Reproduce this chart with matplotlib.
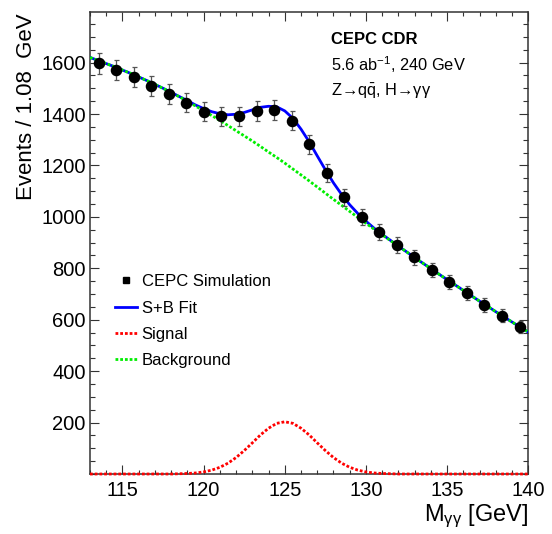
import numpy as np
import matplotlib
matplotlib.use("Agg")
import matplotlib.pyplot as plt
from matplotlib.lines import Line2D
from matplotlib.ticker import FixedLocator, MultipleLocator

plt.rcParams['font.family'] = ['Liberation Sans', 'DejaVu Sans']
plt.rcParams['mathtext.fontset'] = 'custom'
plt.rcParams['mathtext.rm'] = 'Liberation Sans'
plt.rcParams['mathtext.it'] = 'Liberation Sans:italic'
plt.rcParams['mathtext.bf'] = 'Liberation Sans:bold'

# Diphoton mass histogram: 25 bins of 1.08 GeV between 113 and 140 GeV
mass_lo, mass_hi, bin_width = 113.0, 140.0, 1.08
counts = [1597, 1571, 1543, 1510, 1479, 1444, 1409, 1391, 1391, 1412,
          1416, 1373, 1282, 1170, 1076, 998, 940, 891, 843, 793,
          748, 703, 657, 615, 573]

# Fitted shapes sampled every 0.5 GeV from 113 to 140 GeV
curve_step = 0.5
background = [1620, 1608, 1596, 1584, 1571, 1558, 1544, 1530, 1515, 1500,
              1484, 1467, 1450, 1431, 1413, 1394, 1375, 1355, 1335, 1315,
              1295, 1274, 1252, 1231, 1209, 1186, 1163, 1140, 1116, 1092,
              1068, 1045, 1021, 998, 975, 952, 930, 908, 886, 864,
              842, 820, 799, 777, 756, 735, 714, 693, 672, 652,
              631, 611, 591, 571, 552]
signal = [0, 0, 0, 0, 0, 0, 0, 0, 0, 0,
          0, 1, 2, 4, 8, 15, 26, 42, 64, 91,
          121, 152, 178, 197, 203, 197, 178, 152, 121, 91,
          64, 42, 26, 15, 8, 4, 2, 1, 0, 0,
          0, 0, 0, 0, 0, 0, 0, 0, 0, 0,
          0, 0, 0, 0, 0]

x_ticks = [115, 120, 125, 130, 135, 140]
y_ticks = [200, 400, 600, 800, 1000, 1200, 1400, 1600]

centers = mass_lo + bin_width * (np.arange(len(counts)) + 0.5)
counts_arr = np.array(counts, dtype=float)
errors = np.sqrt(counts_arr)
grid = mass_lo + curve_step * np.arange(len(background))
bkg_arr = np.array(background, dtype=float)
sig_arr = np.array(signal, dtype=float)
total = bkg_arr + sig_arr

W, H, DPI = 552, 534, 100
fig = plt.figure(figsize=(W / DPI, H / DPI), dpi=DPI)
ax = fig.add_axes([90 / W, (H - 474) / H, (528.3 - 90) / W, (474 - 12.3) / H])

ax.plot(grid, total, color='#0000ff', lw=2.0, zorder=3)
ax.plot(grid, sig_arr, color='#ff0000', lw=2.0, ls=(0, (1, 0.7)),
        zorder=4, clip_on=False)
ax.plot(grid, bkg_arr, color='#00ee00', lw=2.0, ls=(0, (1, 0.7)), zorder=4)

ax.errorbar(centers, counts_arr, yerr=errors, fmt='o', color='black',
            ms=7.3, ecolor='#555555', elinewidth=0.9, capsize=1.8,
            capthick=0.9, zorder=5)

ax.set_xlim(mass_lo, mass_hi)
ax.set_ylim(0, 1795.5)
ax.xaxis.set_major_locator(FixedLocator(x_ticks))
ax.xaxis.set_minor_locator(MultipleLocator(1))
ax.yaxis.set_major_locator(FixedLocator(y_ticks))
ax.yaxis.set_minor_locator(MultipleLocator(50))
ax.tick_params(axis='both', which='both', direction='in', top=True,
               right=True, colors='#333333', width=0.8, labelcolor='black',
               labelsize=14.5)
ax.tick_params(axis='x', which='major', length=6.2, pad=5)
ax.tick_params(axis='x', which='minor', length=3.1)
ax.tick_params(axis='y', which='major', length=6.8, pad=3)
ax.tick_params(axis='y', which='minor', length=3.4)
for side in ax.spines.values():
    side.set_linewidth(1.1)
    side.set_color('#333333')

ax.text(1.0, -0.062, r'M$_{\mathrm{γγ}}$ [GeV]', transform=ax.transAxes,
        ha='right', va='top', fontsize=17)
fig.text(27 / W, 1 - 13 / H, 'Events / 1.08  GeV', rotation=90,
         ha='center', va='top', fontsize=16)

# Experiment labels
fig.text(331 / W, 1 - 39 / H, 'CEPC CDR', fontsize=12, fontweight='bold',
         ha='left', va='center')
fig.text(331 / W, 1 - 65 / H, r'5.6 ab$^{\mathrm{-1}}$, 240 GeV', fontsize=11.8,
         ha='left', va='center')
fig.text(331 / W, 1 - 91 / H, r'Z→q$\mathrm{\bar{q}}$, H→γγ', fontsize=11.8,
         ha='left', va='center')

handles = [
    Line2D([], [], marker='s', ms=4.5, color='black', ls='none'),
    Line2D([], [], color='#0000ff', lw=2.0),
    Line2D([], [], color='#ff0000', lw=2.0, ls=(0, (1, 0.7))),
    Line2D([], [], color='#00ee00', lw=2.0, ls=(0, (1, 0.7))),
]
labels = ['CEPC Simulation', 'S+B Fit', 'Signal', 'Background']
ax.legend(handles, labels, loc='upper left', bbox_to_anchor=(0.042, 0.447),
          frameon=False, fontsize=12, handlelength=1.3, handletextpad=0.3,
          labelspacing=0.68, borderaxespad=0)

fig.savefig('out.png', dpi=DPI)
